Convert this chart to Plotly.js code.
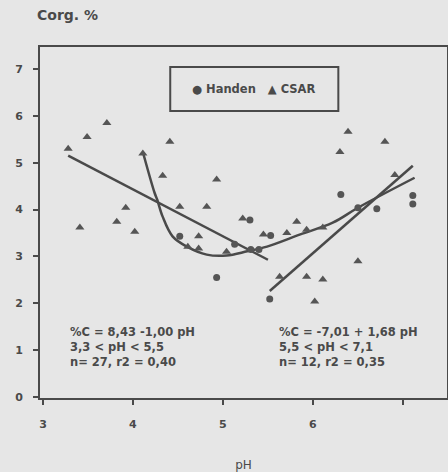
<!DOCTYPE html>
<html>
<head>
<meta charset="utf-8">
<script src="https://cdn.plot.ly/plotly-3.0.1.min.js"></script>
<style>html,body{margin:0;padding:0;background:#e6e6e6;}#chart{width:448px;height:472px;}</style>
</head>
<body>
<div id="chart"></div>
<script>
// CSAR samples (triangles)
const csarPH = [3.28,3.49,3.71,4.41,4.33,4.93,3.92,3.82,3.41,4.02,4.52,4.82,5.22,5.45,4.73,4.61,4.73,5.04,5.71,5.82,5.93,6.11,6.50,5.63,5.93,6.11,6.02,6.39,6.80,6.30,6.91,4.11];
const csarC  = [5.30,5.55,5.85,5.45,4.72,4.64,4.04,3.74,3.62,3.53,4.06,4.06,3.81,3.47,3.43,3.21,3.17,3.10,3.50,3.74,3.57,3.62,2.90,2.57,2.57,2.51,2.04,5.66,5.45,5.23,4.74,5.20];
// Handen samples (circles)
const handenPH = [4.93,6.31,6.71,7.11,7.11,5.52,4.52,5.13,5.30,5.53,5.31,5.40,6.50];
const handenC  = [2.55,4.32,4.02,4.30,4.12,2.09,3.43,3.26,3.78,3.45,3.15,3.15,4.04];
// linear fits
const fit1PH = [3.28, 5.50];            // %C = 8.43 - 1.00 pH
const fit1C  = [8.43-1.00*3.28, 8.43-1.00*5.50];
const fit2PH = [5.52, 7.11];            // %C = -7.01 + 1.68 pH
const fit2C  = [-7.01+1.68*5.52, -7.01+1.68*7.11];
// smooth curve
const curvePH = [4.11,4.24,4.27,4.33,4.44,4.60,4.82,5.04,5.27,5.49,5.86,6.22,6.50,7.13];
const curveC  = [5.23,4.36,4.21,3.85,3.43,3.21,3.04,3.02,3.11,3.21,3.47,3.72,4.04,4.68];
// axis ticks
const xTicks = [3,4,5,6,7];
const xTickText = ["3","4","5","6",""];
const yTicks = [0,1,2,3,4,5,6,7];

const ink = '#4a4a4a';
const fam = 'DejaVu Sans, Liberation Sans, sans-serif';
const lineStyle = {color: ink, width: 2.5};
const traces = [
  {x: fit1PH, y: fit1C, mode:'lines', line: lineStyle, showlegend:false, hoverinfo:'skip'},
  {x: fit2PH, y: fit2C, mode:'lines', line: lineStyle, showlegend:false, hoverinfo:'skip'},
  {x: curvePH, y: curveC, mode:'lines', line: Object.assign({shape:'spline', smoothing:1}, lineStyle), showlegend:false, hoverinfo:'skip'},
  {x: handenPH, y: handenC, mode:'markers', name:'Handen', showlegend:false, marker:{symbol:'circle', size:7, color:'#555'}},
  {x: csarPH, y: csarC, mode:'markers', name:'CSAR', showlegend:false, marker:{symbol:'triangle-up', size:8, color:'#555'}}
];
const font = {family:fam, size:11, color:ink, weight:'bold'};
const layout = {
  width:448, height:472,
  margin:{l:40, r:1, t:47, b:74},
  paper_bgcolor:'#e6e6e6', plot_bgcolor:'#e6e6e6',
  font: font,
  showlegend:false,
  xaxis:{range:[2.967,7.49], tickvals:xTicks, ticktext:xTickText, showgrid:false, zeroline:false,
         showline:true, linecolor:ink, linewidth:2, mirror:true, ticks:'outside', ticklen:5, tickwidth:2, tickcolor:ink,
         ticklabelstandoff:10,
         title:{text:'pH', font:{size:12, color:ink, weight:'normal'}, standoff:30}},
  yaxis:{range:[-0.02,7.47], tickvals:yTicks, showgrid:false, zeroline:false, ticklabelstandoff:8,
         showline:true, linecolor:ink, linewidth:2, mirror:true, ticks:'outside', ticklen:5, tickwidth:2, tickcolor:ink},
  shapes:[{type:'rect', xref:'paper', yref:'paper', x0:0.32, x1:0.733, y0:0.818, y1:0.943, line:{color:ink, width:2}}],
  annotations:[
    {xref:'paper', yref:'paper', x:0.5265, y:0.88, xanchor:'center', yanchor:'middle', showarrow:false,
     text:'● Handen   ▲ CSAR', font:{size:11.5, color:ink}},
    {xref:'paper', yref:'paper', x:-0.012, y:1.09, xanchor:'left', yanchor:'middle', text:'Corg. %', showarrow:false, font:{size:14, color:ink}},
    {xref:'paper', yref:'paper', x:0.068, y:0.145, xanchor:'left', yanchor:'middle', align:'left', showarrow:false,
     text:'%C = 8,43 -1,00 pH<br>3,3 < pH < 5,5<br>n= 27, r2 = 0,40', font:{size:11.5, color:ink}},
    {xref:'paper', yref:'paper', x:0.582, y:0.145, xanchor:'left', yanchor:'middle', align:'left', showarrow:false,
     text:'%C = -7,01 + 1,68 pH<br>5,5 < pH < 7,1<br>n= 12, r2 = 0,35', font:{size:11.5, color:ink}}
  ]
};
Plotly.newPlot('chart', traces, layout, {displayModeBar:false, staticPlot:true});
</script>
</body>
</html>
